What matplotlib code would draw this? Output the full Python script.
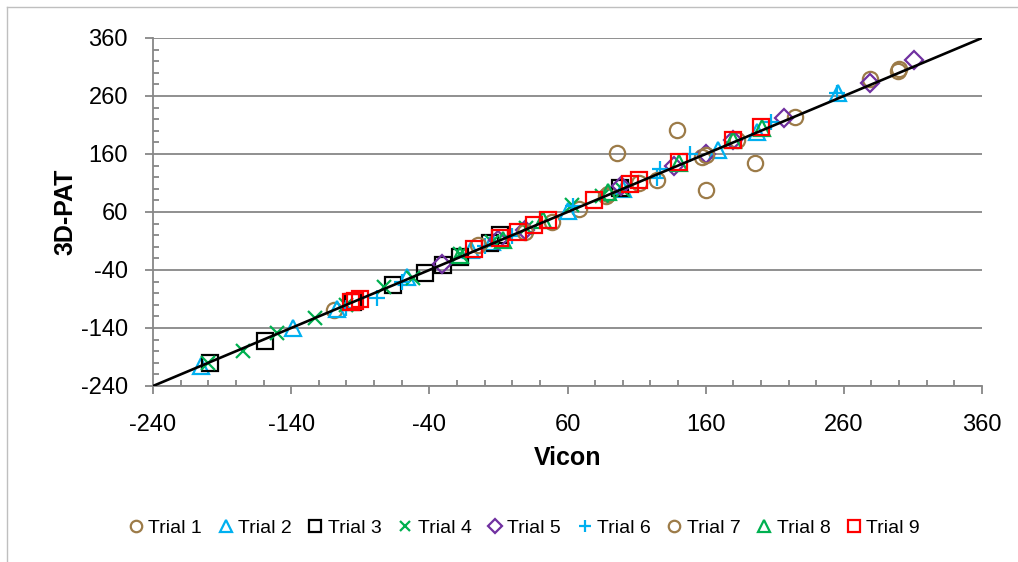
"""Vicon vs 3D-PAT agreement scatter, one marker style per trial."""

import matplotlib
matplotlib.use("Agg")
import matplotlib.pyplot as plt
from matplotlib.lines import Line2D
from matplotlib.ticker import MultipleLocator

plt.rcParams["font.family"] = ["Liberation Sans", "DejaVu Sans"]
plt.rcParams["axes.unicode_minus"] = False

# values (degrees)
trial1_x = [-109, 49, 68, 89, 96, 112, 139, 157, 183, 225, 279]
trial1_y = [-109, 43, 66, 91, 162, 110, 201, 155, 184, 224, 289]
trial2_x = [-205, -139, -107, -56, -10, 5, 60, 100, 169, 197, 256]
trial2_y = [-205, -140, -107, -52, -5, 8, 62, 100, 167, 198, 265]
trial3_x = [-199, -159, -95, -66, -43, -30, -18, 4, 11, 98]
trial3_y = [-200, -162, -96, -66, -45, -31, -18, 6, 20, 102]
trial4_x = [-200, -175, -150, -123, -100, -73, -52, -18, 5, 30, 63, 85, 100]
trial4_y = [-200, -179, -148, -123, -100, -70, -54, -12, 8, 32, 72, 88, 98]
trial5_x = [-31, 10, 29, 99, 137, 160, 180, 217, 279, 311]
trial5_y = [-30, 12, 29, 104, 139, 160, 184, 222, 282, 322]
trial6_x = [-100, -78, -60, 0, 20, 64, 125, 127, 149, 207, 255]
trial6_y = [-106, -88, -61, 2, 18, 70, 119, 134, 160, 216, 265]
trial7_x = [-5, 29, 88, 125, 160, 160, 196, 299, 300]
trial7_y = [3, 26, 88, 115, 98, 158, 145, 303, 307]
trial8_x = [-18, 13, 42, 89, 141, 180, 201]
trial8_y = [-14, 12, 46, 94, 145, 184, 205]
trial9_x = [-97, -94, -90, -8, 11, 24, 36, 46, 79, 105, 112, 141, 180, 200]
trial9_y = [-96, -93, -90, -3, 15, 25, 38, 46, 81, 108, 115, 146, 184, 207]

labels = ["Trial 1", "Trial 2", "Trial 3", "Trial 4", "Trial 5",
          "Trial 6", "Trial 7", "Trial 8", "Trial 9"]
xs = [trial1_x, trial2_x, trial3_x, trial4_x, trial5_x,
      trial6_x, trial7_x, trial8_x, trial9_x]
ys = [trial1_y, trial2_y, trial3_y, trial4_y, trial5_y,
      trial6_y, trial7_y, trial8_y, trial9_y]
markers = ["o", "^", "s", "x", "D", "+", "o", "^", "s"]
colors = ["#9C7B48", "#00B0F0", "#000000", "#00B050", "#7030A0",
          "#00B0F0", "#9C7B48", "#00B050", "#FF0000"]
sizes = [11, 11, 11, 10, 9, 12, 11, 11, 11]

ticks = [-240, -140, -40, 60, 160, 260, 360]
lo, hi = -240, 360

fig = plt.figure(figsize=(10.18, 5.62), dpi=100)
ax = fig.add_axes([153 / 1018, 1 - 386 / 562, 829 / 1018, 348 / 562])

for x, y, m, c, s, lab in zip(xs, ys, markers, colors, sizes, labels):
    ax.plot(x, y, linestyle="none", marker=m, markersize=s,
            markerfacecolor="none", markeredgecolor=c, markeredgewidth=1.6,
            label=lab, zorder=3)

# line of identity
ax.plot([lo, hi], [lo, hi], color="black", linewidth=1.9, zorder=4)

ax.set_xlim(lo, hi)
ax.set_ylim(lo, hi)
ax.set_xticks(ticks)
ax.set_yticks(ticks)
ax.xaxis.set_minor_locator(MultipleLocator(20))
ax.yaxis.set_minor_locator(MultipleLocator(20))

grey = "#878787"
ax.grid(axis="y", which="major", color=grey, linewidth=1.3, zorder=0)
for side in ["top", "right"]:
    ax.spines[side].set_visible(False)
for side in ["left", "bottom"]:
    ax.spines[side].set_color(grey)
    ax.spines[side].set_linewidth(1.3)

ax.tick_params(which="major", direction="out", length=6, width=1.3,
               color=grey, labelsize=17)
ax.tick_params(which="minor", direction="in", length=4, width=1.3, color=grey)
ax.tick_params(axis="x", which="major", pad=14)
ax.tick_params(axis="y", which="major", pad=12)

ax.set_xlabel("Vicon", fontsize=18, fontweight="bold", va="center")
ax.xaxis.set_label_coords(0.5, -0.207)
ax.set_ylabel("3D-PAT", fontsize=18, fontweight="bold", va="center")
ax.yaxis.set_label_coords(-0.106, 0.5)

fig.legend(loc="center", bbox_to_anchor=(523 / 1018, 1 - 528 / 562), ncol=9,
           frameon=False, fontsize=14, handletextpad=0.15, columnspacing=0.7,
           handlelength=1.0, markerscale=0.75)

# chart area border (light grey, runs off the right and bottom edges)
W, H = 1018, 562
fig.add_artist(Line2D([7 / W, 7 / W], [0, 1 - 7 / H], color="#BFBFBF",
                      linewidth=1.0, transform=fig.transFigure))
fig.add_artist(Line2D([7 / W, 1], [1 - 7 / H, 1 - 7 / H], color="#BFBFBF",
                      linewidth=1.0, transform=fig.transFigure))

fig.savefig("out.png", dpi=100)
